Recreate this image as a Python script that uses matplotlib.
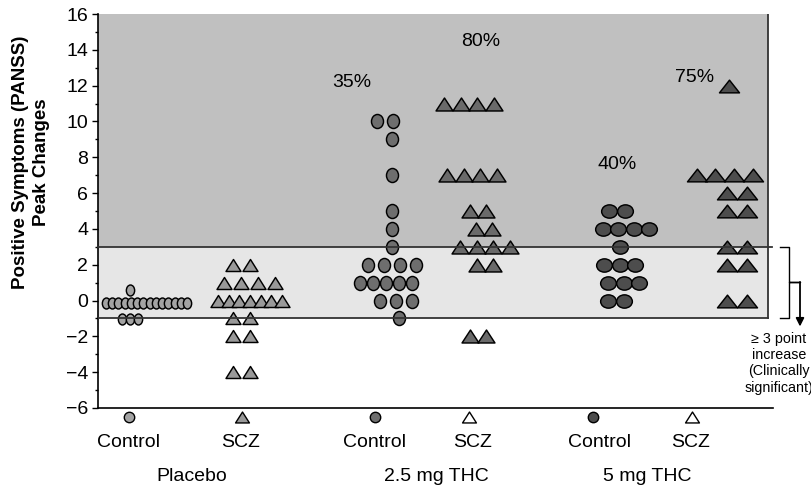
import matplotlib
matplotlib.use("Agg")
import matplotlib.pyplot as plt
import numpy as np
from matplotlib.patches import Rectangle
from matplotlib.path import Path
from matplotlib.transforms import Affine2D

plt.rcParams["font.family"] = ["Liberation Sans", "DejaVu Sans"]

# peak change of positive PANSS score, one entry per subject
placebo_control = [0.6] + [-0.15] * 14 + [-1.05] * 3
placebo_scz = [2] * 2 + [1] * 4 + [0] * 7 + [-1] * 2 + [-2] * 2 + [-4] * 2
thc25_control = [10, 10, 9, 7, 5, 4, 3, 2, 2, 2, 2, 1, 1, 1, 1, 1, 0, 0, 0, -1]
thc25_scz = [11] * 4 + [7] * 4 + [5] * 2 + [4] * 2 + [3] * 4 + [2] * 2 + [-2] * 2
thc5_control = [5] * 2 + [4] * 4 + [3] + [2] * 3 + [1] * 3 + [0] * 2
thc5_scz = [12] + [7] * 4 + [6] * 2 + [5] * 2 + [3] * 2 + [2] * 2 + [0] * 2

pct_labels = ["35%", "80%", "40%", "75%"]
subgroup_labels = ["Control", "SCZ", "Control", "SCZ", "Control", "SCZ"]
dose_labels = ["Placebo", "2.5 mg THC", "5 mg THC"]

ZONE_HIGH = 3
ZONE_LOW = -1


def ellipse(w, h):
    return Affine2D().scale(w, h).transform_path(Path.unit_circle())


def triangle(w, h):
    return Path([(-w, -h), (w, -h), (0, h), (-w, -h)],
                [Path.MOVETO, Path.LINETO, Path.LINETO, Path.CLOSEPOLY])


def swarm(values, center, step, max_width, shifts=None):
    shifts = shifts or {}
    xs, ys = [], []
    for v in sorted(set(values), reverse=True):
        n = values.count(v)
        gap = step if n < 2 else min(step, max_width / (n - 1))
        offs = (np.arange(n) - (n - 1) / 2) * gap + shifts.get(v, 0)
        xs.extend(center + offs)
        ys.extend([v] * n)
    return xs, ys


# (values, center, step, max width, row shifts, marker, size, fill)
groups = [
    (placebo_control, 32, 8, 81, {-0.15: 16.5}, ellipse(8.3, 11), 7.9, "#a3a3a3"),
    (placebo_scz, 144, 17, 64, {1: 8, 0: 8}, triangle(15, 12), 10.8, "#999999"),
    (thc25_control, 294, 16, 52, {10: -6.5, 1: -6, 0: 4, -1: 7}, ellipse(12, 14), 10.1, "#6e6e6e"),
    (thc25_scz, 380, 16.7, 50, {11: -9, 7: -6, 4: 6, 3: 7, 2: 7}, triangle(17, 13), 12.2, "#6a6a6a"),
    (thc5_control, 522, 15.5, 47, {5: -3, 4: 6, 1: 4, 0: -4}, ellipse(15.7, 13.3), 11.3, "#4d4d4d"),
    (thc5_scz, 639, 19.4, 56, {12: -8, 7: -12.3}, triangle(20, 12.7), 14.4, "#4d4d4d"),
]

fig = plt.figure(figsize=(8.12, 4.88), dpi=100)
ax = fig.add_axes([98 / 812, 80 / 488, 675 / 812, 394 / 488])
ax.set_xlim(0, 675)
ax.set_ylim(-6, 16)

# shaded zones
ax.add_patch(Rectangle((0, ZONE_HIGH), 670, 16 - ZONE_HIGH, facecolor="#c0c0c0",
                       edgecolor="none", zorder=0))
ax.add_patch(Rectangle((0, ZONE_LOW), 670, ZONE_HIGH - ZONE_LOW, facecolor="#e6e6e6",
                       edgecolor="none", zorder=0))
ax.plot([0, 674], [ZONE_HIGH, ZONE_HIGH], color="#333333", lw=1.3, zorder=5, clip_on=False)
ax.plot([0, 670], [ZONE_LOW, ZONE_LOW], color="#333333", lw=1.3, zorder=5)
ax.plot([670, 670], [ZONE_LOW, 16], color="#333333", lw=1.3, zorder=5)

for values, center, step, width, shifts, mk, ms, fill in groups:
    xs, ys = swarm(values, center, step, width, shifts)
    for x, y in zip(xs, ys):
        ax.plot(x, y, linestyle="none", marker=mk, ms=ms, mfc=fill, mec="black",
                mew=1.05, zorder=3)

# key markers under the axis
key_x = [31, 144, 277, 371, 495, 594]
key_fill = ["#a3a3a3", "#999999", "#6e6e6e", "white", "#4d4d4d", "white"]
key_mk = ["o", triangle(14, 11), "o", triangle(14, 11), "o", triangle(14, 11)]
key_ms = [7.5, 10, 7.5, 10, 7.5, 10]
for x, f, mk, ms in zip(key_x, key_fill, key_mk, key_ms):
    ax.plot(x, -6.5, linestyle="none", marker=mk, ms=ms, mfc=f, mec="black",
            mew=1.0, clip_on=False)

label_x = [31, 143, 277, 375, 502, 593]
for x, t in zip(label_x, subgroup_labels):
    ax.text(x, -7.95, t, ha="center", va="center", fontsize=14)
for x, t in zip([94, 338, 549], dose_labels):
    ax.text(x, -9.85, t, ha="center", va="center", fontsize=14)

for (x, y), t in zip([(254, 12.15), (383, 14.44), (519, 7.57), (597, 12.48)], pct_labels):
    ax.text(x, y, t, ha="center", va="center", fontsize=14)

# bracket for the clinically significant band
ax.plot([682, 691, 691, 702, 691, 691, 682],
        [ZONE_HIGH, ZONE_HIGH, 1.04, 1.04, 1.04, ZONE_LOW, ZONE_LOW],
        color="black", lw=1.0, clip_on=False)
ax.annotate("", xy=(702, -1.45), xytext=(702, 1.04), annotation_clip=False,
            arrowprops=dict(arrowstyle="-|>", color="black", lw=1.3, mutation_scale=12,
                            shrinkA=0, shrinkB=0))
ax.text(681, -3.5, "\u2265 3 point\nincrease\n(Clinically\nsignificant)",
        ha="center", va="center", fontsize=10.3, linespacing=1.2)

ax.set_yticks(np.arange(-6, 17, 2))
ax.set_yticks(np.arange(-5, 16, 2), minor=True)
ax.set_xticks([])
ax.tick_params(axis="y", which="major", length=4, width=1.0, labelsize=14, pad=3)
ax.tick_params(axis="y", which="minor", length=2.5, width=1.0)
for side in ("top", "right"):
    ax.spines[side].set_visible(False)
for side in ("left", "bottom"):
    ax.spines[side].set_linewidth(1.2)

fig.text(31 / 812, 1 - 162 / 488, "Positive Symptoms (PANSS)\nPeak Changes",
         rotation=90, ha="center", va="center", fontsize=13.5, fontweight="bold",
         multialignment="center", linespacing=1.25)

fig.savefig("out.png", dpi=100)
